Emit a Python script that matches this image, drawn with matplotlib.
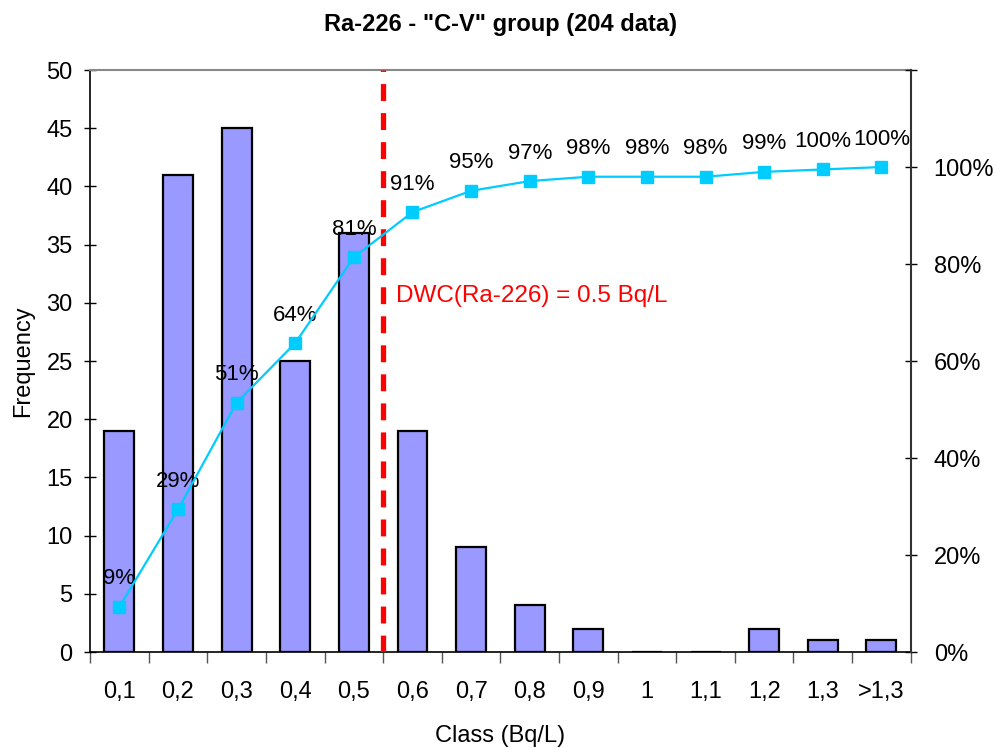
import numpy as np
import matplotlib.pyplot as plt

plt.rcParams['font.family'] = ['Liberation Sans', 'DejaVu Sans']

# Ra-226 class frequencies and cumulative share
classes = ['0,1', '0,2', '0,3', '0,4', '0,5', '0,6', '0,7', '0,8', '0,9', '1', '1,1', '1,2', '1,3', '>1,3']
freq = [19, 41, 45, 25, 36, 19, 9, 4, 2, 0, 0, 2, 1, 1]
cum_pct = [9.3, 29.4, 51.4, 63.7, 81.4, 90.7, 95.1, 97.1, 98.0, 98.0, 98.0, 99.0, 99.5, 100.0]
dwc_pos = 4.5   # limit sits between the 0,5 and 0,6 classes

x = np.arange(len(classes))

fig = plt.figure(figsize=(9.96, 7.49), dpi=100)
ax = fig.add_axes([0.0904, 0.1295, 0.824, 0.777])

ax.bar(x, freq, width=0.51, color='#9999FF', edgecolor='black', linewidth=1.6, zorder=2)
ax.set_xlim(-0.5, len(classes) - 0.5)
ax.set_ylim(0, 50)
ax.set_yticks(np.arange(0, 51, 5))
ax.tick_params(axis='y', direction='inout', length=9, width=1, labelsize=17, pad=8)

# category labels centred, tick marks on the class boundaries
ax.set_xticks(x)
ax.set_xticklabels(classes)
ax.tick_params(axis='x', which='major', length=0, labelsize=17, pad=21)
ax.set_xticks(np.arange(len(classes) + 1) - 0.5, minor=True)
ax.tick_params(axis='x', which='minor', direction='out', length=8, width=1, color='#555555')

ax.spines['top'].set_color('#888888')
ax.spines['top'].set_linewidth(1.5)
ax.spines['right'].set_visible(False)
ax.spines['left'].set_linewidth(1.2)
ax.spines['bottom'].set_linewidth(1.2)

ax.set_ylabel('Frequency', fontsize=17, labelpad=9)
ax.set_xlabel('Class (Bq/L)', fontsize=17, labelpad=16)
ax.set_title('Ra-226 - "C-V" group (204 data)', fontsize=17, fontweight='bold', pad=28)

ax2 = ax.twinx()
ax2.plot(x, cum_pct, color='#00CCFF', linewidth=1.6, marker='s', markersize=9,
         markeredgecolor='#00CCFF', zorder=4)
for xi, p in zip(x, cum_pct):
    ax2.text(xi, p + 3.6, '%.0f%%' % p, ha='center', va='bottom', fontsize=16)
ax2.set_ylim(0, 120)
ax2.set_yticks(np.arange(0, 121, 20))
ax2.set_yticklabels(['%d%%' % v if v <= 100 else '' for v in range(0, 121, 20)])
ax2.tick_params(axis='y', direction='inout', length=9, width=1, labelsize=17, pad=12)
ax2.spines['right'].set_linewidth(1.5)
ax2.spines['right'].set_color('#333333')
for s in ['top', 'left', 'bottom']:
    ax2.spines[s].set_visible(False)

# drinking water concentration limit
ax2.axvline(dwc_pos, color='#FF0000', linewidth=3.8, linestyle=(0, (3.2, 2.3)), zorder=3)
ax2.text(dwc_pos + 0.22, 73.5, 'DWC(Ra-226) = 0.5 Bq/L', color='#FF0000', fontsize=17.5,
         ha='left', va='center')

plt.savefig('out.png', dpi=100)
